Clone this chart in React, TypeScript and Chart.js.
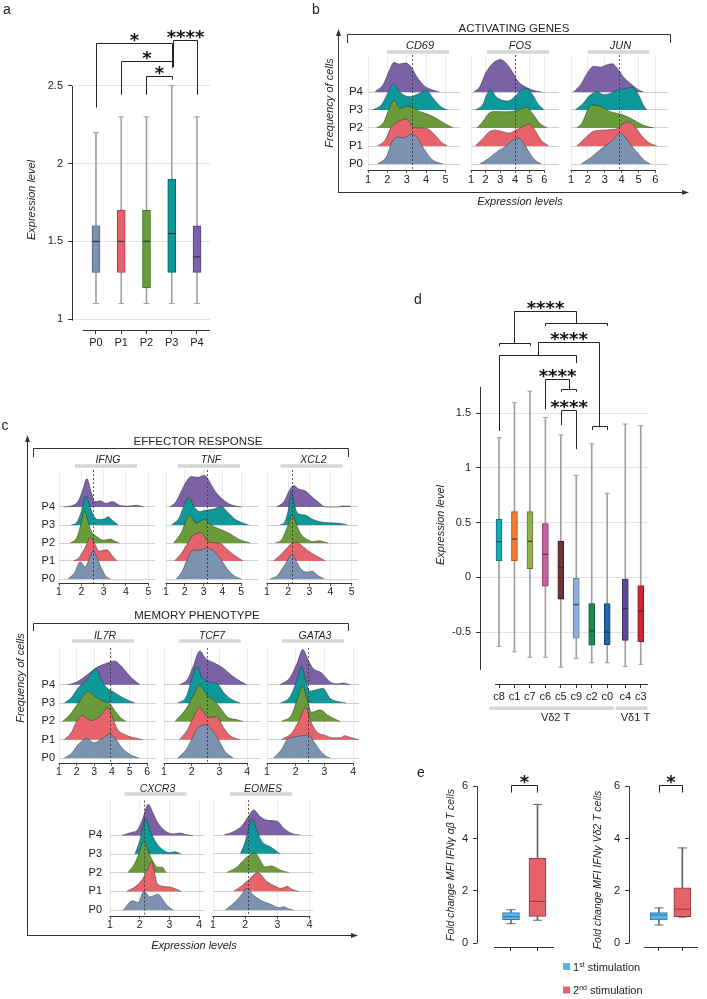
import React, { useEffect, useRef } from 'react';
import { Chart, registerables } from 'chart.js';

Chart.register(...registerables);

const FONT = '"Liberation Sans", Arial, Helvetica, sans-serif';
const STAR_FONT = 'bold 18px "DejaVu Sans", sans-serif';
const INK = '#222222';

type Pt = [number, number];
type Rect = { l: number; t: number; r: number; b: number };
type Bracket = { x1: number; x2: number; y: number; y1: number; y2: number; label?: string };

/* ================= panel a data ================= */
const PERIODS = ['P0', 'P1', 'P2', 'P3', 'P4'];
const PERIOD_FILL = ['#7b93b0', '#e6636b', '#6a9b3b', '#0f989a', '#7b62a7'];
const PERIOD_EDGE = ['#52698a', '#a8414a', '#416c1f', '#0a6668', '#553f80'];
const A_LOW = [1.1, 1.1, 1.1, 1.1, 1.1];
const A_Q1 = [1.3, 1.3, 1.2, 1.3, 1.3];
const A_MED = [1.5, 1.5, 1.5, 1.55, 1.4];
const A_Q3 = [1.6, 1.7, 1.7, 1.9, 1.6];
const A_HIGH = [2.2, 2.3, 2.3, 2.5, 2.3];
const A_TICKS = [1, 1.5, 2, 2.5];
const A_SIG: Bracket[] = [
  { x1: 0, x2: 3, y: 2.777, y1: 2.36, y2: 2.616, label: '*' },
  { x1: 1, x2: 3, y: 2.661, y1: 2.442, y2: 2.616, label: '*' },
  { x1: 2, x2: 3, y: 2.565, y1: 2.442, y2: 2.539, label: '*' },
  { x1: 3.05, x2: 4, y: 2.796, y1: 2.62, y2: 2.442, label: '****' },
];

/* ================= panel b / c ridge data: [expression, density] ================= */
const CD69: Pt[][] = [
  [[1.5, 0], [1.95, 0.4], [2.3, 1.35], [2.6, 1.5], [2.85, 1.45], [3.2, 1.65], [3.55, 1.45], [3.85, 0.9], [4.3, 0.25], [4.7, 0.05], [4.9, 0]],
  [[1.5, 0], [1.9, 0.35], [2.2, 1.05], [2.5, 1.32], [3.0, 1.5], [3.35, 1.05], [3.7, 1.0], [4.1, 0.95], [4.5, 0.55], [4.8, 0.2], [5.1, 0]],
  [[1.45, 0], [1.8, 0.3], [2.1, 1.1], [2.35, 1.55], [2.65, 1.1], [3.0, 1.2], [3.25, 1.2], [3.6, 0.95], [4.0, 0.8], [4.5, 0.55], [5.0, 0.22], [5.4, 0]],
  [[1.25, 0], [1.7, 0.3], [2.05, 1.0], [2.3, 1.48], [2.6, 1.05], [2.9, 0.8], [3.2, 0.74], [3.6, 0.9], [4.0, 1.08], [4.4, 0.6], [4.8, 0.15], [5.1, 0]],
  [[1.35, 0], [1.8, 0.45], [2.1, 1.2], [2.35, 1.65], [2.6, 1.55], [2.95, 1.62], [3.25, 1.35], [3.55, 0.8], [3.9, 0.35], [4.3, 0.12], [4.7, 0]],
];
const FOS: Pt[][] = [
  [[1.6, 0], [2.2, 0.3], [2.8, 0.7], [3.3, 0.95], [3.8, 1.3], [4.2, 1.45], [4.6, 1.15], [5.0, 0.6], [5.4, 0.2], [5.8, 0]],
  [[1.3, 0], [1.8, 0.4], [2.3, 0.82], [2.7, 0.88], [3.2, 0.78], [3.6, 0.72], [4.1, 0.9], [4.6, 1.1], [4.95, 1.22], [5.3, 0.95], [5.8, 0.3], [6.3, 0]],
  [[1.4, 0], [1.8, 0.35], [2.2, 0.8], [2.6, 0.92], [3.2, 0.9], [3.8, 0.92], [4.4, 1.05], [4.8, 1.15], [5.2, 0.8], [5.7, 0.25], [6.2, 0]],
  [[1.3, 0], [1.8, 0.3], [2.1, 0.9], [2.35, 1.12], [2.7, 0.75], [3.1, 0.55], [3.5, 0.5], [4.0, 0.75], [4.4, 1.1], [4.75, 1.2], [5.2, 0.85], [5.6, 0.3], [6.0, 0]],
  [[1.2, 0], [1.6, 0.3], [2.0, 1.05], [2.5, 1.6], [3.0, 1.8], [3.4, 1.6], [3.8, 1.15], [4.2, 0.6], [4.8, 0.25], [5.3, 0.08], [5.8, 0]],
];
const JUN: Pt[][] = [
  [[1.6, 0], [2.1, 0.3], [2.6, 0.7], [3.1, 1.05], [3.5, 1.35], [3.9, 1.72], [4.2, 1.5], [4.6, 1.0], [5.0, 0.55], [5.4, 0.15], [5.7, 0]],
  [[1.35, 0], [1.8, 0.4], [2.3, 0.8], [2.8, 0.88], [3.3, 0.9], [3.8, 1.0], [4.1, 1.25], [4.4, 1.35], [4.8, 1.05], [5.2, 0.55], [5.6, 0.2], [6.1, 0]],
  [[1.35, 0], [1.7, 0.35], [2.0, 1.05], [2.25, 1.28], [2.9, 1.15], [3.3, 0.92], [3.8, 0.8], [4.3, 0.65], [4.8, 0.4], [5.3, 0.15], [5.9, 0]],
  [[1.25, 0], [1.7, 0.35], [2.1, 0.8], [2.55, 1.02], [2.95, 0.85], [3.4, 0.95], [3.8, 1.12], [4.2, 1.18], [4.6, 1.26], [5.0, 0.85], [5.3, 0.25], [5.5, 0]],
  [[1.15, 0], [1.6, 0.45], [2.0, 1.1], [2.35, 1.43], [2.75, 1.38], [3.1, 1.5], [3.45, 1.57], [3.8, 1.25], [4.1, 0.85], [4.6, 0.42], [5.0, 0.12], [5.3, 0]],
];
const IFNG: Pt[][] = [
  [[1.4, 0], [1.7, 0.35], [1.95, 0.96], [2.17, 0.67], [2.35, 1.1], [2.53, 1.54], [2.7, 1.2], [2.9, 0.6], [3.1, 0.15], [3.3, 0]],
  [[1.65, 0], [1.9, 0.2], [2.15, 0.7], [2.42, 1.31], [2.6, 0.95], [2.8, 0.55], [3.0, 0.6], [3.15, 0.62], [3.35, 0.35], [3.6, 0]],
  [[1.5, 0], [1.8, 0.3], [2.0, 1.15], [2.13, 1.8], [2.3, 1.2], [2.45, 0.65], [2.7, 0.35], [3.0, 0.15], [3.3, 0.22], [3.5, 0.1], [3.7, 0]],
  [[1.55, 0], [1.8, 0.15], [2.0, 0.75], [2.2, 1.6], [2.4, 1.0], [2.55, 0.5], [2.8, 0.3], [3.05, 0.35], [3.2, 0.46], [3.4, 0.25], [3.65, 0]],
  [[1.2, 0], [1.6, 0.08], [1.85, 0.3], [2.05, 0.9], [2.25, 1.57], [2.45, 0.8], [2.6, 0.3], [2.85, 0.35], [3.1, 0.2], [3.4, 0.3], [3.7, 0.1], [4.1, 0.05], [4.45, 0.1], [4.8, 0]],
];
const TNF: Pt[][] = [
  [[1.55, 0], [1.85, 0.4], [2.2, 1.25], [2.45, 1.6], [2.8, 1.6], [3.15, 1.72], [3.55, 1.55], [3.85, 1.2], [4.2, 0.65], [4.6, 0.2], [5.0, 0]],
  [[1.45, 0], [1.8, 0.4], [2.1, 0.9], [2.4, 1.38], [2.9, 1.57], [3.2, 1.1], [3.5, 1.02], [3.85, 1.0], [4.2, 0.7], [4.6, 0.35], [5.1, 0]],
  [[1.4, 0], [1.8, 0.55], [2.05, 1.2], [2.27, 1.56], [2.6, 1.1], [3.05, 1.31], [3.4, 1.0], [3.8, 0.8], [4.4, 0.52], [4.9, 0.2], [5.5, 0]],
  [[1.3, 0], [1.7, 0.4], [2.0, 1.2], [2.2, 1.54], [2.5, 1.0], [2.8, 0.75], [3.1, 0.82], [3.5, 0.88], [3.95, 1.02], [4.3, 0.7], [4.7, 0.3], [5.4, 0]],
  [[1.2, 0], [1.5, 0.25], [1.8, 0.85], [2.1, 1.45], [2.35, 1.7], [2.7, 1.65], [3.05, 1.76], [3.3, 1.45], [3.6, 0.9], [4.0, 0.45], [4.4, 0.15], [5.0, 0]],
];
const XCL2: Pt[][] = [
  [[1.15, 0], [1.5, 0.2], [1.85, 0.8], [2.19, 1.35], [2.4, 0.95], [2.6, 0.55], [2.9, 0.38], [3.13, 0.43], [3.4, 0.2], [3.7, 0]],
  [[1.3, 0], [1.7, 0.4], [2.0, 0.8], [2.35, 1.07], [2.6, 0.9], [2.9, 0.6], [3.3, 0.3], [3.77, 0]],
  [[1.4, 0], [1.7, 0.2], [1.95, 0.85], [2.19, 1.56], [2.4, 1.0], [2.6, 0.5], [2.9, 0.2], [3.2, 0.08], [3.5, 0.12], [3.7, 0.05], [3.9, 0]],
  [[1.6, 0], [1.85, 0.2], [2.0, 0.8], [2.15, 1.8], [2.3, 1.1], [2.45, 0.65], [2.8, 0.55], [3.1, 0.35], [3.5, 0.18], [4.0, 0.12], [4.5, 0.08], [4.8, 0]],
  [[1.45, 0], [1.8, 0.3], [2.05, 0.9], [2.26, 1.2], [2.5, 1.0], [2.8, 0.9], [3.1, 0.6], [3.4, 0.3], [3.77, 0], [4.4, 0], [4.5, 0.05], [4.9, 0.05], [4.95, 0]],
];
const IL7R: Pt[][] = [
  [[1.3, 0], [1.7, 0.25], [2.1, 0.75], [2.55, 1.07], [3.0, 0.83], [3.5, 1.1], [3.87, 1.3], [4.2, 1.05], [4.6, 0.52], [5.1, 0.15], [5.55, 0]],
  [[1.3, 0], [1.7, 0.4], [2.0, 1.0], [2.3, 1.33], [2.8, 1.05], [3.3, 1.25], [3.77, 1.76], [4.0, 1.3], [4.3, 0.6], [4.8, 0.25], [5.4, 0.08], [5.75, 0]],
  [[1.2, 0], [1.6, 0.35], [2.1, 1.0], [2.65, 1.65], [3.0, 1.4], [3.4, 1.15], [3.85, 0.98], [4.2, 0.55], [4.5, 0.2], [4.8, 0]],
  [[1.3, 0], [1.7, 0.3], [2.1, 0.85], [2.6, 1.3], [3.1, 1.9], [3.4, 1.25], [3.7, 0.85], [4.1, 0.6], [4.6, 0.3], [5.3, 0]],
  [[1.5, 0], [2.0, 0.15], [2.4, 0.4], [2.8, 0.7], [3.2, 0.98], [3.7, 1.18], [4.15, 1.3], [4.5, 1.05], [4.9, 0.6], [5.2, 0.3], [5.6, 0]],
];
const TCF7: Pt[][] = [
  [[1.5, 0], [1.8, 0.45], [2.05, 1.17], [2.2, 1.6], [2.54, 1.81], [2.75, 1.5], [2.95, 1.05], [3.2, 0.35], [3.5, 0]],
  [[1.55, 0], [1.85, 0.55], [2.05, 1.2], [2.29, 1.76], [2.5, 1.35], [2.7, 1.2], [2.9, 1.28], [3.15, 0.65], [3.4, 0.2], [3.75, 0]],
  [[1.4, 0], [1.8, 0.7], [2.05, 1.4], [2.29, 1.98], [2.55, 1.45], [2.8, 1.15], [3.1, 0.6], [3.3, 0.22], [3.6, 0.1], [3.85, 0]],
  [[1.5, 0], [1.8, 0.35], [2.0, 1.3], [2.17, 2.0], [2.4, 1.35], [2.6, 1.15], [2.9, 1.07], [3.2, 0.5], [3.5, 0.15], [3.75, 0]],
  [[1.55, 0], [1.85, 0.3], [2.05, 1.0], [2.29, 1.85], [2.5, 1.45], [2.8, 1.2], [3.1, 0.95], [3.5, 0.45], [3.8, 0.15], [4.0, 0]],
];
const GATA3: Pt[][] = [
  [[1.23, 0], [1.5, 0.45], [1.7, 1.0], [1.95, 1.15], [2.15, 1.2], [2.45, 1.26], [2.65, 0.85], [2.85, 0.4], [3.1, 0.05], [3.2, 0]],
  [[1.5, 0], [1.85, 0.35], [2.1, 1.0], [2.34, 1.76], [2.55, 0.9], [2.75, 0.4], [3.0, 0.25], [3.3, 0.1], [3.55, 0.1], [3.7, 0.22], [3.9, 0.12], [4.2, 0]],
  [[1.5, 0], [1.85, 0.35], [2.05, 1.2], [2.24, 1.93], [2.4, 1.2], [2.55, 0.5], [2.85, 0.63], [3.1, 0.35], [3.4, 0.1], [3.55, 0]],
  [[1.47, 0], [1.8, 0.35], [2.05, 1.3], [2.2, 2.0], [2.35, 1.2], [2.5, 0.65], [2.75, 0.75], [2.95, 0.8], [3.2, 0.25], [3.5, 0.08], [3.75, 0]],
  [[1.44, 0], [1.8, 0.4], [2.05, 1.2], [2.24, 1.93], [2.45, 1.3], [2.6, 0.9], [2.9, 0.65], [3.2, 0.15], [3.45, 0.05], [3.65, 0.1], [3.9, 0]],
];
const CXCR3: Pt[][] = [
  [[1.45, 0], [1.6, 0.3], [1.75, 0.5], [1.95, 0.4], [2.14, 1.02], [2.34, 0.7], [2.62, 0.85], [2.8, 0.5], [2.95, 0.2], [3.13, 0]],
  [[1.56, 0], [1.8, 0.2], [2.05, 0.55], [2.25, 1.1], [2.4, 1.61], [2.5, 1.0], [2.6, 0.4], [2.9, 0.25], [3.1, 0.2], [3.4, 0]],
  [[1.6, 0], [1.85, 0.55], [2.0, 1.15], [2.14, 1.7], [2.3, 1.1], [2.45, 0.6], [2.6, 0.3], [2.75, 0.3], [2.9, 0]],
  [[1.84, 0], [2.0, 0.7], [2.2, 1.89], [2.35, 1.3], [2.5, 0.75], [2.8, 0.2], [3.0, 0.08], [3.18, 0.13], [3.4, 0]],
  [[1.4, 0], [1.7, 0.15], [1.95, 0.35], [2.1, 0.9], [2.29, 1.67], [2.45, 1.2], [2.62, 0.65], [2.9, 0.2], [3.15, 0.08], [3.35, 0.13], [3.55, 0.05], [3.8, 0]],
];
const EOMES: Pt[][] = [
  [[1.38, 0], [1.7, 0.45], [1.9, 0.85], [2.05, 1.15], [2.25, 0.8], [2.5, 0.5], [2.8, 0.3], [3.05, 0.12], [3.2, 0.18], [3.35, 0.06], [3.5, 0]],
  [[1.64, 0], [1.9, 0.3], [2.1, 0.6], [2.39, 1.0], [2.65, 0.55], [2.95, 0.25], [3.1, 0.15], [3.3, 0.25], [3.45, 0.1], [3.66, 0]],
  [[1.43, 0], [1.75, 0.3], [2.0, 0.75], [2.29, 1.05], [2.5, 0.55], [2.6, 0.3], [2.8, 0.35], [3.1, 0.12], [3.35, 0]],
  [[1.85, 0], [2.0, 0.65], [2.21, 1.85], [2.35, 1.3], [2.5, 0.7], [2.8, 0.35], [3.0, 0.1], [3.09, 0]],
  [[1.33, 0], [1.6, 0.15], [1.9, 0.5], [2.1, 1.0], [2.26, 1.33], [2.45, 1.0], [2.65, 0.8], [3.0, 0.72], [3.2, 0.35], [3.45, 0.08], [3.7, 0]],
];
const MEDIANS: Record<string, number> = {
  CD69: 3.28, FOS: 4.0, JUN: 3.85, IFNG: 2.53, TNF: 3.21, XCL2: 2.19,
  IL7R: 3.9, TCF7: 2.56, GATA3: 2.42, CXCR3: 2.14, EOMES: 2.07,
};
const LAST_TICK: Record<string, number> = {
  CD69: 5, FOS: 6, JUN: 6, IFNG: 5, TNF: 5, XCL2: 5, IL7R: 6, TCF7: 4, GATA3: 4, CXCR3: 4, EOMES: 4,
};

/* ================= panel d data ================= */
const CLUSTERS = ['c8', 'c1', 'c7', 'c6', 'c5', 'c9', 'c2', 'c0', 'c4', 'c3'];
const CLUSTER_GROUP = [0, 0, 0, 0, 0, 0, 0, 0, 1, 1];
const GROUP_NAMES = ['Vδ2 T', 'Vδ1 T'];
const D_LOW = [-0.63, -0.68, -0.73, -0.73, -0.82, -0.74, -0.78, -0.78, -0.815, -0.795];
const D_Q1 = [0.15, 0.15, 0.08, -0.08, -0.2, -0.555, -0.62, -0.615, -0.575, -0.59];
const D_MED = [0.325, 0.35, 0.33, 0.21, 0.09, -0.25, -0.49, -0.5, -0.285, -0.31];
const D_Q3 = [0.53, 0.6, 0.6, 0.49, 0.33, -0.01, -0.24, -0.24, -0.015, -0.075];
const D_HIGH = [1.275, 1.595, 1.7, 1.46, 1.3, 0.93, 1.22, 0.767, 1.4, 1.385];
const D_FILL = ['#1aa7b9', '#ee7b30', '#93b04f', '#c962a5', '#6e3535', '#90b1df', '#1b8b4f', '#1d6baf', '#5c4b9b', '#d42434'];
const D_EDGE = ['#0f6f7c', '#a4521b', '#5f7630', '#86386c', '#3e1b1b', '#5f7fae', '#0f5a31', '#103f6c', '#3a2e66', '#8e1521'];
const D_TICKS = [-0.5, 0, 0.5, 1, 1.5];
const D_SIG: Bracket[] = [
  { x1: 0, x2: 2, y: 2.137, y1: 2.11, y2: 2.11 },
  { x1: 3, x2: 7, y: 2.32, y1: 2.295, y2: 2.295 },
  { x1: 1, x2: 5, y: 2.43, y1: 2.137, y2: 2.32, label: '****' },
  { x1: 0, x2: 5, y: 2.03, y1: 1.336, y2: 1.957 },
  { x1: 6, x2: 7, y: 1.382, y1: 1.345, y2: 1.345 },
  { x1: 2.5, x2: 6.5, y: 2.146, y1: 2.03, y2: 1.382, label: '****' },
  { x1: 4, x2: 5, y: 1.72, y1: 1.695, y2: 1.695 },
  { x1: 3, x2: 4.5, y: 1.808, y1: 1.534, y2: 1.72, label: '****' },
  { x1: 4, x2: 5, y: 1.528, y1: 1.39, y2: 1.17, label: '****' },
];

/* ================= panel e data ================= */
const STIMS = ['1st', '2nd'];
const E_FILL = ['#56b4e6', '#e6616a'];
const E_EDGE = ['#2f7fae', '#8f3a40'];
const AB_LOW = [0.75, 0.88];
const AB_Q1 = [0.9, 1.03];
const AB_MED = [1.02, 1.6];
const AB_Q3 = [1.17, 3.24];
const AB_HIGH = [1.28, 5.3];
const VD2_LOW = [0.7, 1.0];
const VD2_Q1 = [0.89, 1.02];
const VD2_MED = [1.08, 1.3];
const VD2_Q3 = [1.17, 2.12];
const VD2_HIGH = [1.35, 3.64];
const E_TICKS = [0, 2, 4, 6];
const E_SIG: Bracket[] = [{ x1: 0, x2: 1, y: 6.03, y1: 5.75, y2: 5.75, label: '*' }];

/* ================= layout (positions only) ================= */
type Row = { t: number; b: number; base0: number; unit: number; titleY: number; barY: number; font: number };
const ROW_B: Row = { t: 55, b: 170, base0: 164, unit: 18, titleY: 45, barY: 52, font: 11 };
const ROW_C1: Row = { t: 470, b: 583, base0: 579, unit: 18, titleY: 459, barY: 466, font: 10.5 };
const ROW_C2: Row = { t: 648, b: 763, base0: 758, unit: 18.3, titleY: 635, barY: 641, font: 10.5 };
const ROW_C3: Row = { t: 800, b: 916, base0: 910, unit: 18.75, titleY: 788, barY: 794, font: 10.5 };

type RidgePanel = { gene: string; curves: Pt[][]; row: Row; l: number; r: number; xMax: number; labels: boolean; labelPad: number; barX: number };
const RIDGES: RidgePanel[] = [
  { gene: 'CD69', curves: CD69, row: ROW_B, l: 368, r: 460, xMax: 5.75, labels: true, labelPad: 5, barX: 418 },
  { gene: 'FOS', curves: FOS, row: ROW_B, l: 471, r: 559, xMax: 7.0, labels: false, labelPad: 0, barX: 518 },
  { gene: 'JUN', curves: JUN, row: ROW_B, l: 571, r: 668, xMax: 6.75, labels: false, labelPad: 0, barX: 618.5 },
  { gene: 'IFNG', curves: IFNG, row: ROW_C1, l: 59, r: 155, xMax: 5.3, labels: true, labelPad: 4, barX: 106 },
  { gene: 'TNF', curves: TNF, row: ROW_C1, l: 166, r: 258, xMax: 5.9, labels: false, labelPad: 0, barX: 209 },
  { gene: 'XCL2', curves: XCL2, row: ROW_C1, l: 267, r: 358, xMax: 5.3, labels: false, labelPad: 0, barX: 311.5 },
  { gene: 'IL7R', curves: IL7R, row: ROW_C2, l: 59, r: 156, xMax: 6.5, labels: true, labelPad: 4, barX: 103 },
  { gene: 'TCF7', curves: TCF7, row: ROW_C2, l: 164, r: 261, xMax: 4.5, labels: false, labelPad: 0, barX: 210 },
  { gene: 'GATA3', curves: GATA3, row: ROW_C2, l: 267, r: 359, xMax: 4.2, labels: false, labelPad: 0, barX: 313 },
  { gene: 'CXCR3', curves: CXCR3, row: ROW_C3, l: 110, r: 205, xMax: 4.2, labels: true, labelPad: 8, barX: 155.5 },
  { gene: 'EOMES', curves: EOMES, row: ROW_C3, l: 213, r: 313, xMax: 4.1, labels: false, labelPad: 0, barX: 261 },
];

function ridgeCanvas(p: RidgePanel): Rect {
  return { l: p.l - (p.labels ? 44 : 10), t: p.row.t - 14, r: p.r + 8, b: p.row.b + 20 };
}

const snap = (v: number) => Math.round(v) + 0.5;

function drawBrackets(chart: any, list: Bracket[]) {
  const { ctx, scales } = chart;
  const x = scales.x, y = scales.y;
  ctx.save();
  ctx.strokeStyle = '#222';
  ctx.lineWidth = 1;
  ctx.fillStyle = '#111';
  ctx.font = STAR_FONT;
  ctx.textAlign = 'center';
  ctx.textBaseline = 'alphabetic';
  for (const b of list) {
    const x1 = snap(x.getPixelForValue(b.x1));
    const x2 = snap(x.getPixelForValue(b.x2));
    const yy = snap(y.getPixelForValue(b.y));
    ctx.beginPath();
    ctx.moveTo(x1, y.getPixelForValue(b.y1));
    ctx.lineTo(x1, yy);
    ctx.lineTo(x2, yy);
    ctx.lineTo(x2, y.getPixelForValue(b.y2));
    ctx.stroke();
    if (b.label) ctx.fillText(b.label, (x1 + x2) / 2, yy + 2);
  }
  ctx.restore();
}

function ridgeConfig(p: RidgePanel): any {
  const row = p.row;
  const canvas = ridgeCanvas(p);
  const pad = { left: 0, top: row.t - canvas.t, right: canvas.r - p.r, bottom: 0 };
  const yW = p.l - canvas.l;
  const xH = canvas.b - row.b;
  const last = LAST_TICK[p.gene];
  const xt: number[] = [];
  for (let v = 1; v <= last; v++) xt.push(v);
  const median = MEDIANS[p.gene];
  const yMin = (row.base0 - row.b) / row.unit;
  const yMax = (row.base0 - row.t) / row.unit;
  return {
    type: 'line',
    data: {
      datasets: p.curves.map((pts, i) => ({
        label: PERIODS[i],
        data: pts.map(([xv, h]) => ({ x: xv, y: i + h })),
        fill: { value: i },
        backgroundColor: PERIOD_FILL[i],
        borderColor: 'rgba(45,45,45,0.7)',
        borderWidth: 0.7,
        pointRadius: 0,
        cubicInterpolationMode: 'monotone',
      })),
    },
    options: {
      responsive: false,
      animation: false,
      devicePixelRatio: 1,
      events: [],
      layout: { padding: pad },
      plugins: { legend: { display: false }, tooltip: { enabled: false } },
      scales: {
        x: {
          type: 'linear', min: 1, max: p.xMax, bounds: 'data', offset: false,
          afterBuildTicks: (sc: any) => { sc.ticks = xt.map((v) => ({ value: v })); },
          afterFit: (sc: any) => { sc.height = xH; },
          grid: { color: '#e6e6e6', lineWidth: 0.8, tickColor: '#333', tickLength: 3 },
          border: { display: false },
          ticks: { font: { family: FONT, size: row.font }, color: INK, padding: 0, maxRotation: 0, autoSkip: false },
        },
        y: {
          type: 'linear', min: yMin, max: yMax, bounds: 'data',
          afterBuildTicks: (sc: any) => { sc.ticks = [0, 1, 2, 3, 4].map((v) => ({ value: v })); },
          afterFit: (sc: any) => { sc.width = yW; },
          grid: { color: '#bdbdbd', lineWidth: 0.7, drawTicks: false },
          border: { display: false },
          ticks: {
            display: p.labels,
            callback: (v: number) => PERIODS[v],
            font: { family: FONT, size: row.font + 0.5 },
            color: INK,
            padding: p.labelPad,
          },
        },
      },
    },
    plugins: [
      {
        id: 'ridgeDecor',
        afterDatasetsDraw(chart: any) {
          const { ctx, chartArea: a, scales: { x } } = chart;
          ctx.save();
          const mx = snap(x.getPixelForValue(median));
          ctx.strokeStyle = '#333';
          ctx.lineWidth = 0.8;
          ctx.setLineDash([2, 2]);
          ctx.beginPath();
          ctx.moveTo(mx, a.top);
          ctx.lineTo(mx, a.bottom);
          ctx.stroke();
          ctx.setLineDash([]);
          ctx.lineWidth = 1;
          const by = snap(a.bottom);
          ctx.beginPath();
          ctx.moveTo(x.getPixelForValue(1) - 0.5, by);
          ctx.lineTo(x.getPixelForValue(last) + 0.5, by);
          ctx.stroke();
          ctx.restore();
        },
      },
    ],
  };
}

type BoxSpec = {
  canvas: Rect; area: Rect;
  pos: number[]; labels: string[];
  low: number[]; q1: number[]; med: number[]; q3: number[]; high: number[];
  fill: string[]; edge: string[]; medColor: string[];
  boxW: number; capR: number; whisker: string; whiskerW: number;
  xMin: number; xMax: number; yMin: number; yMax: number; yTicks: number[];
  grid: boolean; yAxis: [number, number]; xAxisFrom: number; xAxisTo: number;
  sig: Bracket[]; tickFont: number;
  extra?: (chart: any) => void;
};

function boxConfig(s: BoxSpec): any {
  const pad = { left: 0, top: s.area.t - s.canvas.t, right: s.canvas.r - s.area.r, bottom: 0 };
  const yW = s.area.l - s.canvas.l;
  const xH = s.canvas.b - s.area.b;
  const at = (vals: number[]) => vals.map((v, i) => ({ x: s.pos[i], y: v }));
  return {
    type: 'bar',
    data: {
      datasets: [
        {
          type: 'line', data: at(s.med), showLine: false, pointStyle: 'line',
          pointRadius: s.boxW / 2 - 0.5, borderColor: s.medColor, pointBorderColor: s.medColor,
          pointBorderWidth: 1, order: 0,
        },
        {
          type: 'bar', data: s.pos.map((x, i) => ({ x, y: [s.q1[i], s.q3[i]] })),
          backgroundColor: s.fill, borderColor: s.edge, borderWidth: 1, borderSkipped: false,
          barThickness: s.boxW, grouped: false, order: 1,
        },
        {
          type: 'line', data: [...at(s.low), ...at(s.high)], showLine: false, pointStyle: 'line',
          pointRadius: s.capR, borderColor: s.whisker, pointBorderColor: s.whisker, pointBorderWidth: 1, order: 2,
        },
        {
          type: 'bar', data: s.pos.map((x, i) => ({ x, y: [s.low[i], s.high[i]] })),
          backgroundColor: s.whisker, barThickness: s.whiskerW, grouped: false, order: 3,
        },
      ],
    },
    options: {
      responsive: false,
      animation: false,
      devicePixelRatio: 1,
      events: [],
      layout: { padding: pad },
      plugins: { legend: { display: false }, tooltip: { enabled: false } },
      scales: {
        x: {
          type: 'linear', min: s.xMin, max: s.xMax, bounds: 'data', offset: false,
          afterBuildTicks: (sc: any) => { sc.ticks = s.pos.map((v) => ({ value: v })); },
          afterFit: (sc: any) => { sc.height = xH; },
          grid: { drawOnChartArea: false, drawTicks: true, tickLength: 4, tickColor: '#333', offset: false },
          border: { display: false },
          ticks: {
            callback: (_v: number, i: number) => s.labels[i] ?? '',
            font: { family: FONT, size: s.tickFont }, color: INK, padding: 2, maxRotation: 0, autoSkip: false,
          },
        },
        y: {
          type: 'linear', min: s.yMin, max: s.yMax, bounds: 'data', beginAtZero: false,
          afterBuildTicks: (sc: any) => { sc.ticks = s.yTicks.map((v) => ({ value: v })); },
          afterFit: (sc: any) => { sc.width = yW; },
          grid: { drawOnChartArea: s.grid, color: '#e2e2e2', tickColor: '#333', tickLength: 4 },
          border: { display: false },
          ticks: { callback: (v: number) => String(v), font: { family: FONT, size: s.tickFont }, color: INK, padding: 5 },
        },
      },
    },
    plugins: [
      {
        id: 'boxDecor',
        afterDraw(chart: any) {
          const { ctx, chartArea: a, scales: { x, y } } = chart;
          ctx.save();
          ctx.strokeStyle = '#333';
          ctx.lineWidth = 1;
          const ax = snap(a.left);
          ctx.beginPath();
          ctx.moveTo(ax, y.getPixelForValue(s.yAxis[0]));
          ctx.lineTo(ax, y.getPixelForValue(s.yAxis[1]));
          ctx.stroke();
          const by = snap(a.bottom);
          ctx.beginPath();
          ctx.moveTo(x.getPixelForValue(s.xAxisFrom), by);
          ctx.lineTo(x.getPixelForValue(s.xAxisTo), by);
          ctx.stroke();
          ctx.restore();
          drawBrackets(chart, s.sig);
          if (s.extra) s.extra(chart);
        },
      },
    ],
  };
}

/* panel d category positions with a small gap between groups */
const D_POS = CLUSTERS.map((_, i) => i + CLUSTER_GROUP[i] * 0.17);

function drawGroups(chart: any) {
  const { ctx, chartArea: a, scales: { x } } = chart;
  ctx.save();
  GROUP_NAMES.forEach((name, g) => {
    const idx = CLUSTER_GROUP.map((v, i) => (v === g ? i : -1)).filter((i) => i >= 0);
    const x1 = x.getPixelForValue(D_POS[idx[0]] - 0.62);
    const x2 = x.getPixelForValue(D_POS[idx[idx.length - 1]] + 0.42);
    ctx.fillStyle = '#d6d6d6';
    ctx.fillRect(x1, a.bottom + 22.5, x2 - x1, 3.5);
    ctx.fillStyle = INK;
    ctx.font = `11px ${FONT}`;
    ctx.textAlign = 'center';
    ctx.textBaseline = 'middle';
    ctx.fillText(name, (x1 + x2) / 2 + 4, a.bottom + 33.5);
  });
  ctx.restore();
}

const CHART_A: BoxSpec = {
  canvas: { l: 0, t: -6, r: 222, b: 356 }, area: { l: 72, t: 8, r: 210, b: 330 },
  pos: [0, 1, 2, 3, 4], labels: PERIODS,
  low: A_LOW, q1: A_Q1, med: A_MED, q3: A_Q3, high: A_HIGH,
  fill: PERIOD_FILL, edge: PERIOD_EDGE, medColor: PERIOD_EDGE.map(() => '#2a2a2a'),
  boxW: 8, capR: 3, whisker: '#a3a3a3', whiskerW: 1,
  xMin: -0.95, xMax: 4.515, yMin: 0.93, yMax: 3.0, yTicks: A_TICKS,
  grid: true, yAxis: [0.99, 2.5], xAxisFrom: -0.52, xAxisTo: 4.515,
  sig: A_SIG, tickFont: 11,
};

const CHART_D: BoxSpec = {
  canvas: { l: 430, t: 262, r: 656, b: 728 }, area: { l: 480, t: 287, r: 648, b: 684 },
  pos: D_POS, labels: CLUSTERS,
  low: D_LOW, q1: D_Q1, med: D_MED, q3: D_Q3, high: D_HIGH,
  fill: D_FILL, edge: D_EDGE, medColor: D_EDGE.map(() => '#2a2a2a'),
  boxW: 6, capR: 2.5, whisker: '#a0a0a0', whiskerW: 1,
  xMin: -1.23, xMax: 9.64, yMin: -0.974, yMax: 2.651, yTicks: D_TICKS,
  grid: true, yAxis: [-0.845, 1.74], xAxisFrom: -0.26, xAxisTo: 9.64,
  sig: D_SIG, tickFont: 11, extra: drawGroups,
};

const CHART_E1: BoxSpec = {
  canvas: { l: 430, t: 752, r: 566, b: 960 }, area: { l: 477, t: 768, r: 557, b: 947 },
  pos: [0, 1], labels: ['', ''],
  low: AB_LOW, q1: AB_Q1, med: AB_MED, q3: AB_Q3, high: AB_HIGH,
  fill: E_FILL, edge: E_EDGE, medColor: E_EDGE,
  boxW: 17, capR: 4.5, whisker: '#666666', whiskerW: 1,
  xMin: -1.283, xMax: 1.736, yMin: -0.141, yMax: 6.69, yTicks: E_TICKS,
  grid: false, yAxis: [0, 6], xAxisFrom: -0.64, xAxisTo: 1.62,
  sig: E_SIG, tickFont: 11,
};

const CHART_E2: BoxSpec = {
  canvas: { l: 585, t: 752, r: 707, b: 960 }, area: { l: 629, t: 768, r: 707, b: 947 },
  pos: [0, 1], labels: ['', ''],
  low: VD2_LOW, q1: VD2_Q1, med: VD2_MED, q3: VD2_Q3, high: VD2_HIGH,
  fill: E_FILL, edge: E_EDGE, medColor: E_EDGE,
  boxW: 17, capR: 4.5, whisker: '#666666', whiskerW: 1,
  xMin: -1.267, xMax: 1.665, yMin: -0.141, yMax: 6.69, yTicks: E_TICKS,
  grid: false, yAxis: [0, 6], xAxisFrom: -0.63, xAxisTo: 1.665,
  sig: E_SIG, tickFont: 11,
};

function ChartCanvas({ rect, make }: { rect: Rect; make: () => any }) {
  const ref = useRef<HTMLCanvasElement>(null);
  useEffect(() => {
    const chart = new Chart(ref.current as HTMLCanvasElement, make());
    return () => chart.destroy();
  }, []);
  const w = rect.r - rect.l;
  const h = rect.b - rect.t;
  return (
    <canvas
      ref={ref}
      width={w}
      height={h}
      style={{ position: 'absolute', left: rect.l, top: rect.t, width: w, height: h }}
    />
  );
}

function VText({ x, y, children, size = 10.5 }: { x: number; y: number; children: React.ReactNode; size?: number }) {
  return (
    <text
      transform={`translate(${x},${y}) rotate(-90)`}
      textAnchor="middle"
      dominantBaseline="central"
      fontStyle="italic"
      fontSize={size}
      fill={INK}
    >
      {children}
    </text>
  );
}

function T({ x, y, children, size = 11, italic = false, anchor = 'middle', weight = 'normal' }: any) {
  return (
    <text x={x} y={y} textAnchor={anchor} dominantBaseline="central" fontSize={size} fontStyle={italic ? 'italic' : 'normal'} fontWeight={weight} fill={INK}>
      {children}
    </text>
  );
}

function GroupBracket({ x1, x2, y, leg }: { x1: number; x2: number; y: number; leg: number }) {
  return <path d={`M${x1 + 0.5},${leg} V${y + 0.5} H${x2 + 0.5} V${leg}`} fill="none" stroke="#333" strokeWidth={1} />;
}

export default function App() {
  return (
    <div
      style={{
        position: 'absolute', left: 0, top: 0, width: 707, height: 999, overflow: 'hidden',
        background: '#ffffff', fontFamily: FONT,
      }}
    >
      <ChartCanvas rect={CHART_A.canvas} make={() => boxConfig(CHART_A)} />
      {RIDGES.map((p) => (
        <ChartCanvas key={p.gene} rect={ridgeCanvas(p)} make={() => ridgeConfig(p)} />
      ))}
      <ChartCanvas rect={CHART_D.canvas} make={() => boxConfig(CHART_D)} />
      <ChartCanvas rect={CHART_E1.canvas} make={() => boxConfig(CHART_E1)} />
      <ChartCanvas rect={CHART_E2.canvas} make={() => boxConfig(CHART_E2)} />

      <svg
        width={707}
        height={999}
        style={{ position: 'absolute', left: 0, top: 0, pointerEvents: 'none', fontFamily: FONT }}
      >
        {/* panel letters */}
        <T x={7} y={9} size={14}>a</T>
        <T x={316} y={9} size={14}>b</T>
        <T x={5} y={425} size={14}>c</T>
        <T x={418} y={299} size={14}>d</T>
        <T x={421} y={772} size={14}>e</T>

        {/* panel a */}
        <VText x={31} y={200} size={11}>Expression level</VText>

        {/* panel b frame */}
        <T x={514} y={28} size={11.5}>ACTIVATING GENES</T>
        <GroupBracket x1={347} x2={670} y={34} leg={43} />
        <line x1={338.5} y1={192} x2={338.5} y2={34} stroke="#333" strokeWidth={1} />
        <polygon points="338.5,29 336,36 341,36" fill="#333" />
        <line x1={338} y1={192.5} x2={683} y2={192.5} stroke="#333" strokeWidth={1} />
        <polygon points="689,192.5 682,190 682,195" fill="#333" />
        <VText x={329} y={103} size={11}>Frequency of cells</VText>
        <T x={520} y={201} size={11} italic>Expression levels</T>

        {/* panel c frame */}
        <T x={198} y={441} size={11.5}>EFFECTOR RESPONSE</T>
        <GroupBracket x1={33} x2={348} y={448} leg={457} />
        <T x={197} y={615} size={11.5}>MEMORY PHENOTYPE</T>
        <GroupBracket x1={33} x2={348} y={623} leg={631} />
        <line x1={27.5} y1={935} x2={27.5} y2={440} stroke="#333" strokeWidth={1} />
        <polygon points="27.5,435 25,442 30,442" fill="#333" />
        <line x1={27} y1={935.5} x2={352} y2={935.5} stroke="#333" strokeWidth={1} />
        <polygon points="358,935.5 351,933 351,938" fill="#333" />
        <VText x={20} y={678} size={11}>Frequency of cells</VText>
        <T x={194} y={945} size={11} italic>Expression levels</T>

        {/* gene labels */}
        {RIDGES.map((p) => (
          <g key={p.gene}>
            <rect x={p.barX - 31} y={p.row.barY - 1.75} width={62} height={3.5} fill="#d6d6d6" />
            <T x={p.barX + 2} y={p.row.titleY} size={p.row.font} italic>{p.gene}</T>
          </g>
        ))}

        {/* panel d */}
        <VText x={440} y={525} size={11}>Expression level</VText>

        {/* panel e */}
        <VText x={450} y={865} size={10.5}>Fold change MFI IFNγ αβ T cells</VText>
        <VText x={597} y={870} size={10.5}>Fold change MFI IFNγ Vδ2 T cells</VText>
        {STIMS.map((s, i) => (
          <g key={s}>
            <rect x={563} y={963 + i * 23.5} width={7} height={7} fill={E_FILL[i]} />
            <text x={573} y={970.5 + i * 23.5} fontSize={11} fill={INK}>
              {s.slice(0, 1)}
              <tspan dy={-4} fontSize={7}>{s.slice(1)}</tspan>
              <tspan dy={4}> stimulation</tspan>
            </text>
          </g>
        ))}
      </svg>
    </div>
  );
}
